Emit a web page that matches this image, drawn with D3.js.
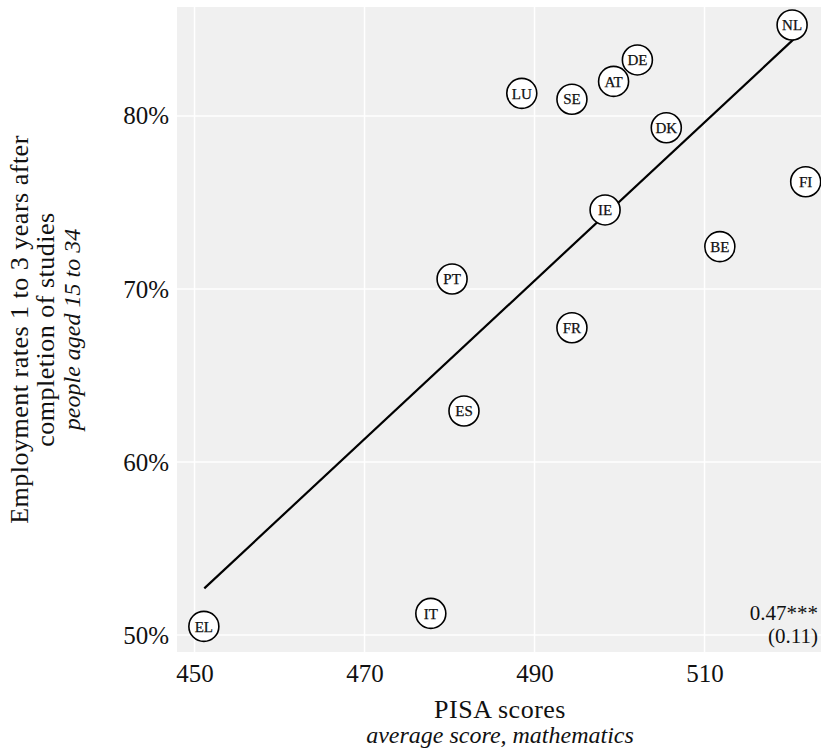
<!DOCTYPE html>
<html>
<head>
<meta charset="utf-8">
<script src="https://cdn.jsdelivr.net/npm/d3@7"></script>
<style>
  body { margin: 0; background: #fff; }
  text { font-family: "Liberation Serif", "DejaVu Serif", serif; fill: #111; }
</style>
</head>
<body>
<div id="chart"></div>
<script>
const W = 821
const H = 753

// country codes, PISA maths score, employment rate (%)
const countries = ['NL', 'DE', 'AT', 'LU', 'SE', 'DK', 'FI', 'IE', 'BE', 'PT', 'FR', 'ES', 'IT', 'EL']
const pisa = [520.3, 502.1, 499.3, 488.5, 494.4, 505.5, 521.9, 498.3, 511.8, 480.3, 494.4, 481.7, 477.8, 451.1]
const employment = [85.26, 83.24, 82.0, 81.31, 80.97, 79.32, 76.2, 74.57, 72.45, 70.58, 67.76, 62.95, 51.25, 50.5]

// fitted line end points
const fitX = [451.15, 520.56]
const fitY = [52.7, 84.47]

const xTicks = [450, 470, 490, 510]
const yTicks = [50, 60, 70, 80]
const coefText = ['0.47***', '(0.11)']

const panel = { left: 177, right: 821, top: 7, bottom: 652 }

const x = d3.scaleLinear().domain([447.94, 523.7]).range([panel.left, panel.right])
const y = d3.scaleLinear().domain([49.02, 86.3]).range([panel.bottom, panel.top])

const svg = d3.select('#chart')
    .append('svg')
    .attr('width', W)
    .attr('height', H)

svg.append('rect')
    .attr('x', panel.left)
    .attr('y', panel.top)
    .attr('width', panel.right - panel.left)
    .attr('height', panel.bottom - panel.top)
    .attr('fill', '#f0f0f0')

// grid
svg.selectAll('.vgrid')
    .data(xTicks)
    .enter()
        .append('line')
        .attr('x1', d => x(d))
        .attr('x2', d => x(d))
        .attr('y1', panel.top)
        .attr('y2', panel.bottom)
        .attr('stroke', '#fff')
        .attr('stroke-width', 1.5)
svg.selectAll('.hgrid')
    .data(yTicks)
    .enter()
        .append('line')
        .attr('x1', panel.left)
        .attr('x2', panel.right)
        .attr('y1', d => y(d))
        .attr('y2', d => y(d))
        .attr('stroke', '#fff')
        .attr('stroke-width', 1.5)

// axes (labels only)
const xAxis = svg.append('g')
    .attr('transform', `translate(0,${panel.bottom})`)
    .call(d3.axisBottom(x).tickValues(xTicks).tickSize(0).tickPadding(9))
xAxis.select('.domain').remove()
xAxis.selectAll('text')
    .attr('font-size', 25)
    .attr('font-family', '"Liberation Serif", serif')
    .attr('fill', '#111')
    .attr('dy', '0.85em')

const yAxis = svg.append('g')
    .attr('transform', `translate(${panel.left},0)`)
    .call(d3.axisLeft(y).tickValues(yTicks).tickFormat(d => d + '%').tickSize(0).tickPadding(8))
yAxis.select('.domain').remove()
yAxis.selectAll('text')
    .attr('font-size', 25)
    .attr('font-family', '"Liberation Serif", serif')
    .attr('fill', '#111')

// regression line
svg.append('line')
    .attr('x1', x(fitX[0]))
    .attr('y1', y(fitY[0]))
    .attr('x2', x(fitX[1]))
    .attr('y2', y(fitY[1]))
    .attr('stroke', '#000')
    .attr('stroke-width', 2.2)

// points
const pts = svg.selectAll('.pt')
    .data(countries)
    .enter()
        .append('g')
        .attr('class', 'pt')
        .attr('transform', (d, i) => `translate(${x(pisa[i])},${y(employment[i])})`)
pts.append('circle')
    .attr('r', 15)
    .attr('fill', '#fff')
    .attr('stroke', '#000')
    .attr('stroke-width', 1.6)
pts.append('text')
    .attr('text-anchor', 'middle')
    .attr('dy', '0.35em')
    .attr('font-size', 15)
    .attr('stroke', '#111')
    .attr('stroke-width', 0.25)
    .text(d => d)

// coefficient note
svg.selectAll('.coef')
    .data(coefText)
    .enter()
        .append('text')
        .attr('x', 818)
        .attr('y', (d, i) => 620 + i * 23)
        .attr('text-anchor', 'end')
        .attr('font-size', 21)
        .text(d => d)

// axis titles
svg.append('text')
    .attr('x', 500)
    .attr('y', 718)
    .attr('text-anchor', 'middle')
    .attr('font-size', 26)
    .attr('letter-spacing', 0.5)
    .text('PISA scores')
svg.append('text')
    .attr('x', 500)
    .attr('y', 743)
    .attr('text-anchor', 'middle')
    .attr('font-size', 24)
    .attr('font-style', 'italic')
    .text('average score, mathematics')

const yTitle = svg.append('g')
    .attr('transform', `translate(0,${(panel.top + panel.bottom) / 2}) rotate(-90)`)
const yLines = ['Employment rates 1 to 3 years after', 'completion of studies', 'people aged 15 to 34']
yTitle.selectAll('text')
    .data(yLines)
    .enter()
        .append('text')
        .attr('x', 0)
        .attr('y', (d, i) => 28 + i * 26)
        .attr('text-anchor', 'middle')
        .attr('font-size', (d, i) => i == 2 ? 24 : 26)
        .attr('letter-spacing', (d, i) => i == 2 ? 0 : 0.5)
        .attr('font-style', (d, i) => i == 2 ? 'italic' : 'normal')
        .text(d => d)
</script>
</body>
</html>
